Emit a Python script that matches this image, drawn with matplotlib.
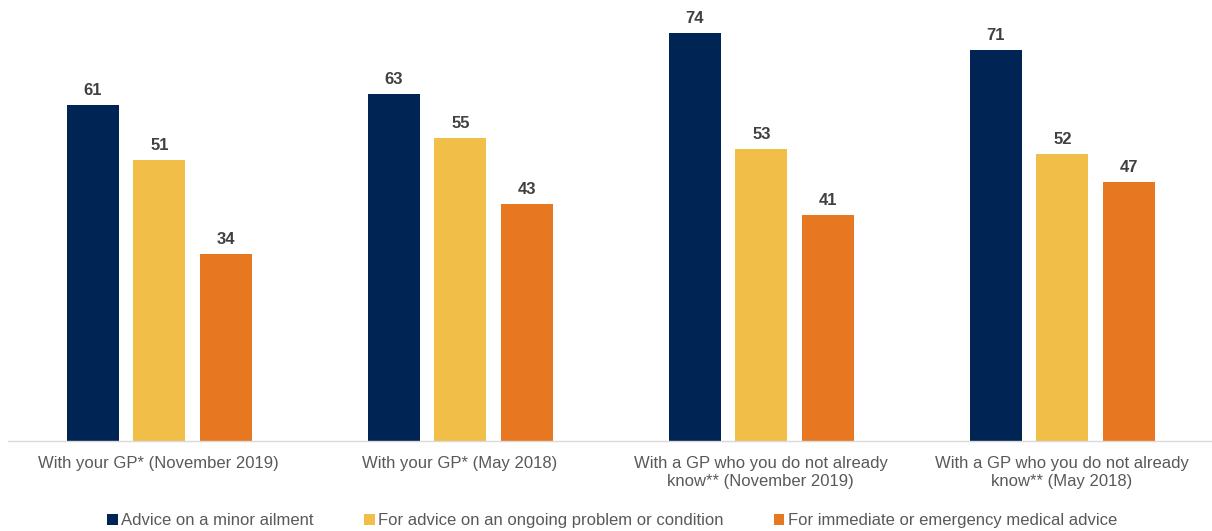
import matplotlib
matplotlib.use("Agg")
import matplotlib.pyplot as plt
import numpy as np

categories = ["With your GP* (November 2019)", "With your GP* (May 2018)",
              "With a GP who you do not already\nknow** (November 2019)",
              "With a GP who you do not already\nknow** (May 2018)"]
series_names = ["Advice on a minor ailment",
                "For advice on an ongoing problem or condition",
                "For immediate or emergency medical advice"]
minor = [61, 63, 74, 71]
ongoing = [51, 55, 53, 52]
immediate = [34, 43, 41, 47]
colors = ["#002554", "#F1BE48", "#E87722"]

plt.rcParams['font.family'] = ['Liberation Sans', 'DejaVu Sans']
fig = plt.figure(figsize=(12.12, 5.31), dpi=100)
ax = fig.add_axes([0.0066, 0.1695, 0.9934, 0.8305])

x = np.arange(len(categories))
w = 0.173
off = 0.222
for i, (vals, c, name) in enumerate(zip([minor, ongoing, immediate], colors, series_names)):
    bars = ax.bar(x + (i - 1) * off + 0.003, vals, w, color=c, label=name)
    for b, v in zip(bars, vals):
        ax.annotate(str(v), (b.get_x() + b.get_width() / 2, v), xytext=(0, 5),
                    textcoords="offset points", ha="center", va="bottom",
                    fontsize=12, fontweight="bold", color="#404040")

ax.set_xlim(-0.5, 3.5)
ax.set_ylim(0, 80)
ax.set_yticks([])
for s in ["top", "right", "left"]:
    ax.spines[s].set_visible(False)
ax.spines["bottom"].set_color("#d9d9d9")
ax.spines["bottom"].set_linewidth(1.0)
ax.set_xticks(x)
ax.set_xticklabels(categories, fontsize=12, color="#595959", linespacing=1.2)
ax.tick_params(axis="x", length=0, pad=11)

leg = fig.legend(loc="center", bbox_to_anchor=(0.505, 0.019), ncol=3, frameon=False,
                 fontsize=12, handlelength=0.65, handleheight=0.65, handletextpad=0.2,
                 columnspacing=3.0)
for t in leg.get_texts():
    t.set_color("#595959")

fig.savefig("out.png", dpi=100)
